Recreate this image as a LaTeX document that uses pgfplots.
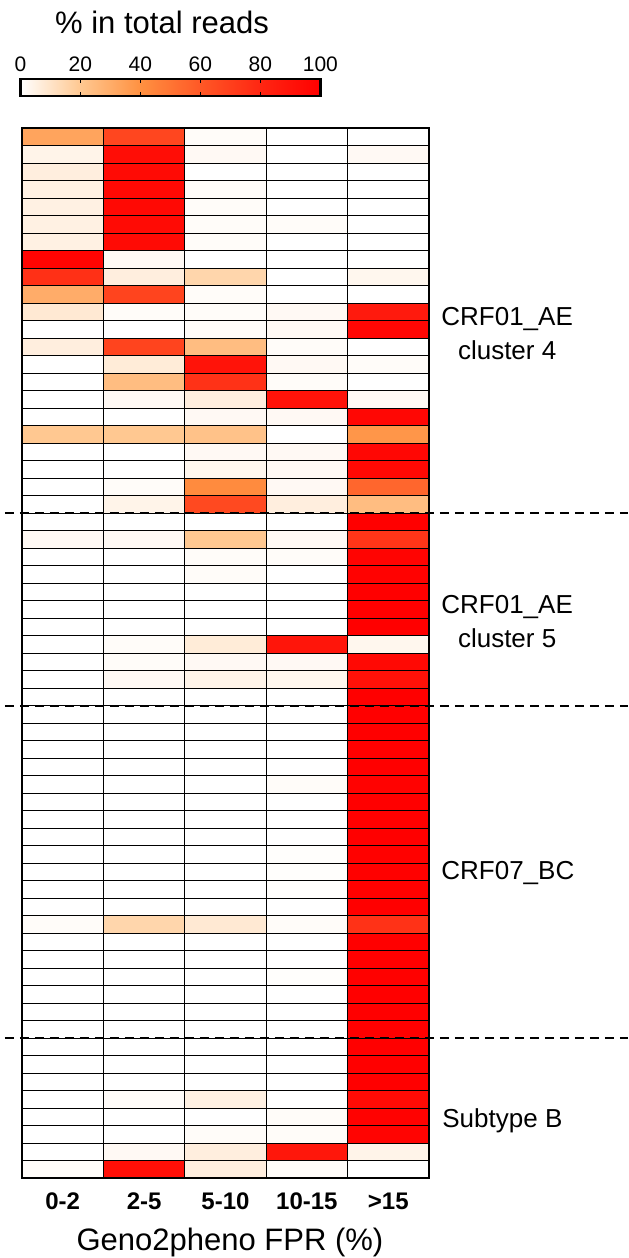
\documentclass[border=0pt]{standalone}
\usepackage{pgfplots}
\pgfplotsset{compat=1.18}
\usepackage{fontspec}
\setmainfont{Liberation Sans}
\begin{document}
\begin{tikzpicture}
\begin{axis}[
  at={(11pt,40pt)}, anchor=south west,
  scale only axis, width=203.5pt, height=525pt,
  xmin=-0.5, xmax=4.5, ymin=-0.5, ymax=59.5, y dir=reverse,
  axis on top, clip=false,
  colormap={reds}{rgb255(0)=(255,255,255) rgb255(20)=(255,200,145) rgb255(40)=(255,145,65) rgb255(60)=(255,88,38) rgb255(80)=(255,38,18) rgb255(100)=(255,0,0)},
  point meta min=0, point meta max=100,
  xtick={0,1,2,3,4}, xticklabels={0-2,2-5,5-10,10-15,>15},
  xticklabel style={font=\bfseries\fontsize{12}{14}\selectfont, anchor=base, yshift=-15.5pt},
  extra x ticks={0.5,1.5,2.5,3.5}, extra x tick labels={},
  extra x tick style={grid=major},
  ytick={-0.5,0.5,...,59.5}, yticklabels={}, ymajorgrids,
  major tick length=0pt,
  grid style={black, line width=0.5pt},
  axis line style={line width=1.2pt},
  xlabel={Geno2pheno FPR (\%)},
  xlabel style={font=\fontsize{15.5}{18}\selectfont, at={(axis description cs:0.511,-0.0686)}, anchor=base},
  colorbar horizontal,
  colorbar style={
    at={(-0.004,1.0305)}, anchor=south west,
    scale only axis, width=150pt, height=8.5pt,
    xtick={0,20,40,60,80,100}, xticklabels={0,20,40,60,80,100},
    xticklabel pos=upper,
    xticklabel style={font=\fontsize{10.5}{12}\selectfont},
    /pgf/number format/assume math mode=true,
    major tick length=2pt, tick align=inside, xtick pos=both,
    tick style={black, line width=0.8pt},
    axis line style={line width=1.3pt},
    ytick=\empty,
  },
]
\addplot[matrix plot*, mesh/cols=5, point meta=explicit] table[x=x, y=y, meta=c, row sep=\\] {
x y c\\
0 0 33\\ 1 0 67\\ 2 0 1\\ 3 0 0\\ 4 0 0\\
0 1 4\\ 1 1 93\\ 2 1 2\\ 3 1 0\\ 4 1 2\\
0 2 6\\ 1 2 94\\ 2 2 0\\ 3 2 0\\ 4 2 0\\
0 3 5\\ 1 3 95\\ 2 3 1\\ 3 3 0\\ 4 3 0\\
0 4 5\\ 1 4 95\\ 2 4 1\\ 3 4 0\\ 4 4 0\\
0 5 5\\ 1 5 94\\ 2 5 1\\ 3 5 1\\ 4 5 0\\
0 6 5\\ 1 6 94\\ 2 6 1\\ 3 6 0\\ 4 6 0\\
0 7 98\\ 1 7 2\\ 2 7 0\\ 3 7 0\\ 4 7 0\\
0 8 76\\ 1 8 6\\ 2 8 15\\ 3 8 0\\ 4 8 3\\
0 9 30\\ 1 9 68\\ 2 9 1\\ 3 9 0\\ 4 9 0\\
0 10 8\\ 1 10 1\\ 2 10 1\\ 3 10 2\\ 4 10 86\\
0 11 0\\ 1 11 0\\ 2 11 1\\ 3 11 2\\ 4 11 96\\
0 12 6\\ 1 12 68\\ 2 12 24\\ 3 12 1\\ 4 12 0\\
0 13 0\\ 1 13 7\\ 2 13 90\\ 3 13 2\\ 4 13 1\\
0 14 0\\ 1 14 24\\ 2 14 75\\ 3 14 1\\ 4 14 0\\
0 15 0\\ 1 15 2\\ 2 15 6\\ 3 15 90\\ 4 15 2\\
0 16 0\\ 1 16 0\\ 2 16 2\\ 3 16 2\\ 4 16 96\\
0 17 20\\ 1 17 20\\ 2 17 22\\ 3 17 0\\ 4 17 38\\
0 18 0\\ 1 18 0\\ 2 18 2\\ 3 18 2\\ 4 18 96\\
0 19 0\\ 1 19 0\\ 2 19 3\\ 3 19 2\\ 4 19 95\\
0 20 0\\ 1 20 1\\ 2 20 42\\ 3 20 2\\ 4 20 55\\
0 21 0\\ 1 21 4\\ 2 21 66\\ 3 21 6\\ 4 21 24\\
0 22 0\\ 1 22 0\\ 2 22 0\\ 3 22 0\\ 4 22 100\\
0 23 2\\ 1 23 2\\ 2 23 20\\ 3 23 2\\ 4 23 74\\
0 24 0\\ 1 24 0\\ 2 24 1\\ 3 24 1\\ 4 24 98\\
0 25 0\\ 1 25 0\\ 2 25 1\\ 3 25 0\\ 4 25 99\\
0 26 0\\ 1 26 0\\ 2 26 0\\ 3 26 0\\ 4 26 100\\
0 27 0\\ 1 27 0\\ 2 27 0\\ 3 27 0\\ 4 27 100\\
0 28 0\\ 1 28 0\\ 2 28 0\\ 3 28 0\\ 4 28 100\\
0 29 0\\ 1 29 1\\ 2 29 7\\ 3 29 89\\ 4 29 3\\
0 30 0\\ 1 30 1\\ 2 30 2\\ 3 30 2\\ 4 30 95\\
0 31 0\\ 1 31 2\\ 2 31 4\\ 3 31 3\\ 4 31 91\\
0 32 0\\ 1 32 0\\ 2 32 0\\ 3 32 0\\ 4 32 100\\
0 33 0\\ 1 33 0\\ 2 33 0\\ 3 33 0\\ 4 33 100\\
0 34 0\\ 1 34 0\\ 2 34 0\\ 3 34 0\\ 4 34 100\\
0 35 0\\ 1 35 0\\ 2 35 0\\ 3 35 0\\ 4 35 100\\
0 36 0\\ 1 36 0\\ 2 36 0\\ 3 36 0\\ 4 36 100\\
0 37 0\\ 1 37 0\\ 2 37 0\\ 3 37 1\\ 4 37 99\\
0 38 0\\ 1 38 0\\ 2 38 0\\ 3 38 0\\ 4 38 100\\
0 39 0\\ 1 39 0\\ 2 39 0\\ 3 39 0\\ 4 39 100\\
0 40 0\\ 1 40 0\\ 2 40 0\\ 3 40 0\\ 4 40 100\\
0 41 0\\ 1 41 0\\ 2 41 0\\ 3 41 0.5\\ 4 41 99.5\\
0 42 0\\ 1 42 0\\ 2 42 0\\ 3 42 0.5\\ 4 42 99.5\\
0 43 0\\ 1 43 0\\ 2 43 0\\ 3 43 0.5\\ 4 43 99.5\\
0 44 0\\ 1 44 0\\ 2 44 0\\ 3 44 0\\ 4 44 100\\
0 45 1\\ 1 45 15\\ 2 45 8\\ 3 45 1\\ 4 45 75\\
0 46 0\\ 1 46 0\\ 2 46 0\\ 3 46 0\\ 4 46 100\\
0 47 0\\ 1 47 0\\ 2 47 0\\ 3 47 0\\ 4 47 100\\
0 48 0\\ 1 48 0\\ 2 48 0\\ 3 48 0.5\\ 4 48 99.5\\
0 49 0\\ 1 49 0\\ 2 49 0\\ 3 49 0\\ 4 49 100\\
0 50 0\\ 1 50 0\\ 2 50 0\\ 3 50 0\\ 4 50 100\\
0 51 0\\ 1 51 0\\ 2 51 0\\ 3 51 0\\ 4 51 100\\
0 52 0\\ 1 52 0\\ 2 52 0\\ 3 52 0\\ 4 52 100\\
0 53 0\\ 1 53 0\\ 2 53 0\\ 3 53 0\\ 4 53 100\\
0 54 0\\ 1 54 0\\ 2 54 0\\ 3 54 0\\ 4 54 100\\
0 55 0\\ 1 55 1\\ 2 55 5\\ 3 55 0\\ 4 55 94\\
0 56 0\\ 1 56 0\\ 2 56 0\\ 3 56 1\\ 4 56 99\\
0 57 0\\ 1 57 0\\ 2 57 1\\ 3 57 1\\ 4 57 98\\
0 58 0\\ 1 58 2\\ 2 58 6\\ 3 58 88\\ 4 58 4\\
0 59 1\\ 1 59 92\\ 2 59 6\\ 3 59 1\\ 4 59 0\\
};
\draw[black, line width=1pt, dash pattern=on 4.5pt off 3pt] (axis cs:-0.709,21.5) -- (axis cs:6.945,21.5);
\draw[black, line width=1pt, dash pattern=on 4.5pt off 3pt] (axis cs:-0.709,32.5) -- (axis cs:6.945,32.5);
\draw[black, line width=1pt, dash pattern=on 4.5pt off 3pt] (axis cs:-0.709,51.5) -- (axis cs:6.945,51.5);
\end{axis}
\node[anchor=base, font=\fontsize{15.5}{18}\selectfont] at (81pt,612pt) {\% in total reads};
\begin{scope}[font=\fontsize{13}{15}\selectfont]
\node[anchor=base west, inner sep=0pt] (a4) at (220.5pt,466pt) {CRF01\_AE};
\node[anchor=base, inner sep=0pt] at ([yshift=-17pt]a4.base) {cluster 4};
\node[anchor=base west, inner sep=0pt] (a5) at (220.5pt,322pt) {CRF01\_AE};
\node[anchor=base, inner sep=0pt] at ([yshift=-17pt]a5.base) {cluster 5};
\node[anchor=base west, inner sep=0pt] at (220.5pt,189pt) {CRF07\_BC};
\node[anchor=base west, inner sep=0pt] at (221pt,65pt) {Subtype B};
\end{scope}
\pgfresetboundingbox
\useasboundingbox (0,0) rectangle (314pt,629pt);
\end{tikzpicture}
\end{document}
